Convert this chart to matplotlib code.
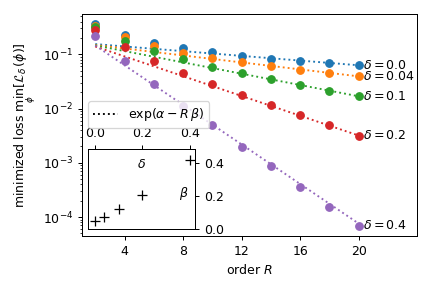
import numpy as np
import matplotlib
matplotlib.use('Agg')
import matplotlib.pyplot as plt

# Dane
orders = [2, 4, 6, 8, 10, 12, 14, 16, 18, 20]
deltas = [0.0, 0.04, 0.1, 0.2, 0.4]
deltaLabels = ['0.0', '0.04', '0.1', '0.2', '0.4']

loss00 = [0.359, 0.227, 0.159, 0.129, 0.110, 0.0931, 0.0812, 0.0743, 0.0682, 0.0627]
loss004 = [0.334, 0.206, 0.142, 0.107, 0.0844, 0.0711, 0.0603, 0.0506, 0.0446, 0.0392]
loss01 = [0.316, 0.178, 0.115, 0.0809, 0.0575, 0.0446, 0.0347, 0.0267, 0.0207, 0.0168]
loss02 = [0.285, 0.135, 0.0743, 0.0446, 0.0279, 0.0177, 0.01156, 0.00745, 0.00488, 0.00318]
loss04 = [0.215, 0.0743, 0.0279, 0.0112, 0.00493, 0.00199, 0.000861, 0.000363, 0.000155, 6.9e-5]
losses = [loss00, loss004, loss01, loss02, loss04]

# Parametry dopasowania exp(alpha - R*beta)
alphas = [-1.769, -1.759, -1.686, -1.551, -1.088]
betas = [0.050, 0.074, 0.120, 0.210, 0.420]

fig, ax = plt.subplots(figsize=(4.8, 3.2), dpi=90)
plt.subplots_adjust(left=0.19, right=0.966, bottom=0.181, top=0.951)

R = np.array(orders)
for i, (d, lab) in enumerate(zip(deltas, deltaLabels)):
    color = f'C{i}'
    ax.plot(orders, losses[i], 'o', color=color)
    ax.plot(R, np.exp(alphas[i] - R * betas[i]), ':', color=color)
    ax.text(20.3, losses[i][-1], r'$\delta = ' + lab + '$', va='center', ha='left')

ax.set_yscale('log')
ax.set_xlim(1.1, 24)
ax.set_xticks([4, 8, 12, 16, 20])
ax.set_xlabel('order $R$')
ax.set_ylabel(r'minimized loss $\min_\phi[\mathcal{L}_\delta(\phi)]$')

# Legenda tylko dla linii dopasowania
ax.plot([], [], 'k:', label=r'$\exp(\alpha - R\,\beta)$')
ax.legend(loc='lower left', bbox_to_anchor=(0, 0.457))

# Wstawka: beta w funkcji delta
axIn = ax.inset_axes([0.017, 0.03, 0.32, 0.362])
axIn.plot(deltas, betas, 'k+', markersize=8)
axIn.set_xlim(-0.03, 0.422)
axIn.set_ylim(0, 0.487)
axIn.set_xticks([0.0, 0.2, 0.4])
axIn.set_yticks([0.0, 0.2, 0.4])
axIn.xaxis.tick_top()
axIn.yaxis.tick_right()
axIn.text(0.503, 0.80, r'$\delta$', transform=axIn.transAxes, ha='center', va='center')
axIn.text(0.892, 0.448, r'$\beta$', transform=axIn.transAxes, ha='center', va='center')

plt.savefig('out.png', dpi=90)
